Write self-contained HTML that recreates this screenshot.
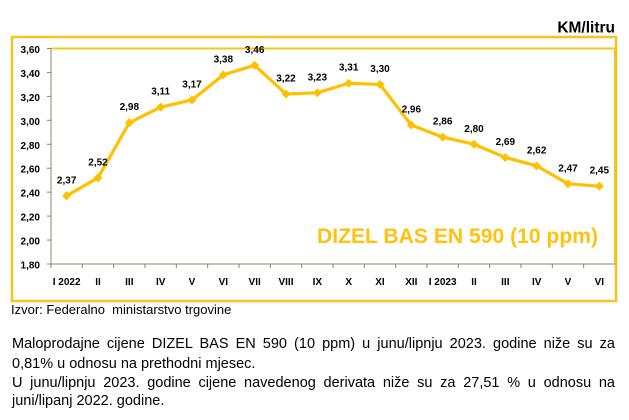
<!DOCTYPE html>
<html>
<head>
<meta charset="utf-8">
<style>
  html,body{margin:0;padding:0;background:#fff;}
  body{width:629px;height:420px;position:relative;overflow:hidden;font-family:"Liberation Sans",Arial,sans-serif;}
  svg{position:absolute;left:0;top:0;}
  .ln{position:absolute;left:12px;width:603px;font-size:14.5px;line-height:19px;color:#000;white-space:nowrap;}
  .j{text-align:justify;text-align-last:justify;white-space:normal;}
</style>
</head>
<body>
<svg width="629" height="420" viewBox="0 0 629 420" xmlns="http://www.w3.org/2000/svg" font-family="Liberation Sans, Arial, sans-serif">
  <!-- KM/litru -->
  <text x="615" y="32.3" font-size="15.5" font-weight="bold" text-anchor="end" fill="#000">KM/litru</text>

  <!-- outer frame -->
  <rect x="12" y="37" width="604" height="264" fill="none" stroke="#F7C41C" stroke-width="2.5"/>

  <!-- plot area top & right border -->
  <line x1="51" y1="48.5" x2="615" y2="48.5" stroke="#F7C41C" stroke-width="2"/>
  <line x1="615" y1="48.5" x2="615" y2="264" stroke="#F7C41C" stroke-width="2"/>

  <!-- axes -->
  <g stroke="#8d8468" stroke-width="1">
    <line x1="51" y1="48.5" x2="51" y2="268"/>
    <line x1="47" y1="264" x2="615" y2="264"/>
    <!-- y ticks -->
    <line x1="47" y1="48.5" x2="51" y2="48.5"/>
    <line x1="47" y1="72.44" x2="51" y2="72.44"/>
    <line x1="47" y1="96.39" x2="51" y2="96.39"/>
    <line x1="47" y1="120.33" x2="51" y2="120.33"/>
    <line x1="47" y1="144.28" x2="51" y2="144.28"/>
    <line x1="47" y1="168.22" x2="51" y2="168.22"/>
    <line x1="47" y1="192.17" x2="51" y2="192.17"/>
    <line x1="47" y1="216.11" x2="51" y2="216.11"/>
    <line x1="47" y1="240.06" x2="51" y2="240.06"/>
    <!-- x ticks -->
    <line x1="82.33" y1="264" x2="82.33" y2="268"/>
    <line x1="113.67" y1="264" x2="113.67" y2="268"/>
    <line x1="145" y1="264" x2="145" y2="268"/>
    <line x1="176.33" y1="264" x2="176.33" y2="268"/>
    <line x1="207.67" y1="264" x2="207.67" y2="268"/>
    <line x1="239" y1="264" x2="239" y2="268"/>
    <line x1="270.33" y1="264" x2="270.33" y2="268"/>
    <line x1="301.67" y1="264" x2="301.67" y2="268"/>
    <line x1="333" y1="264" x2="333" y2="268"/>
    <line x1="364.33" y1="264" x2="364.33" y2="268"/>
    <line x1="395.67" y1="264" x2="395.67" y2="268"/>
    <line x1="427" y1="264" x2="427" y2="268"/>
    <line x1="458.33" y1="264" x2="458.33" y2="268"/>
    <line x1="489.67" y1="264" x2="489.67" y2="268"/>
    <line x1="521" y1="264" x2="521" y2="268"/>
    <line x1="552.33" y1="264" x2="552.33" y2="268"/>
    <line x1="583.67" y1="264" x2="583.67" y2="268"/>
  </g>

  <!-- y labels -->
  <g font-size="10" font-weight="bold" text-anchor="end" fill="#000">
    <text x="40" y="53">3,60</text>
    <text x="40" y="76.9">3,40</text>
    <text x="40" y="100.9">3,20</text>
    <text x="40" y="124.8">3,00</text>
    <text x="40" y="148.8">2,80</text>
    <text x="40" y="172.7">2,60</text>
    <text x="40" y="196.7">2,40</text>
    <text x="40" y="220.6">2,20</text>
    <text x="40" y="244.6">2,00</text>
    <text x="40" y="268.5">1,80</text>
  </g>

  <!-- x labels -->
  <g font-size="10" font-weight="bold" text-anchor="middle" fill="#000">
    <text x="66.67" y="285">I 2022</text>
    <text x="98" y="285">II</text>
    <text x="129.33" y="285">III</text>
    <text x="160.67" y="285">IV</text>
    <text x="192" y="285">V</text>
    <text x="223.33" y="285">VI</text>
    <text x="254.67" y="285">VII</text>
    <text x="286" y="285">VIII</text>
    <text x="317.33" y="285">IX</text>
    <text x="348.67" y="285">X</text>
    <text x="380" y="285">XI</text>
    <text x="411.33" y="285">XII</text>
    <text x="442.67" y="285">I 2023</text>
    <text x="474" y="285">II</text>
    <text x="505.33" y="285">III</text>
    <text x="536.67" y="285">IV</text>
    <text x="568" y="285">V</text>
    <text x="599.33" y="285">VI</text>
  </g>

  <!-- series line -->
  <polyline fill="none" stroke="#FFC000" stroke-width="3.2" stroke-linejoin="round"
    points="66.67,195.76 98,177.8 129.33,122.73 160.67,107.17 192,99.98 223.33,74.84 254.67,65.26 286,94 317.33,92.8 348.67,83.22 380,84.42 411.33,125.12 442.67,137.1 474,144.28 505.33,157.45 536.67,165.83 568,183.79 599.33,186.18"/>

  <!-- markers -->
  <g fill="#FFC000">
    <polygon points="66.67,191.26 71.17,195.76 66.67,200.26 62.17,195.76"/>
    <polygon points="98,173.3 102.5,177.8 98,182.3 93.5,177.8"/>
    <polygon points="129.33,118.23 133.83,122.73 129.33,127.23 124.83,122.73"/>
    <polygon points="160.67,102.67 165.17,107.17 160.67,111.67 156.17,107.17"/>
    <polygon points="192,95.48 196.5,99.98 192,104.48 187.5,99.98"/>
    <polygon points="223.33,70.34 227.83,74.84 223.33,79.34 218.83,74.84"/>
    <polygon points="254.67,60.76 259.17,65.26 254.67,69.76 250.17,65.26"/>
    <polygon points="286,89.5 290.5,94 286,98.5 281.5,94"/>
    <polygon points="317.33,88.3 321.83,92.8 317.33,97.3 312.83,92.8"/>
    <polygon points="348.67,78.72 353.17,83.22 348.67,87.72 344.17,83.22"/>
    <polygon points="380,79.92 384.5,84.42 380,88.92 375.5,84.42"/>
    <polygon points="411.33,120.62 415.83,125.12 411.33,129.62 406.83,125.12"/>
    <polygon points="442.67,132.6 447.17,137.1 442.67,141.6 438.17,137.1"/>
    <polygon points="474,139.78 478.5,144.28 474,148.78 469.5,144.28"/>
    <polygon points="505.33,152.95 509.83,157.45 505.33,161.95 500.83,157.45"/>
    <polygon points="536.67,161.33 541.17,165.83 536.67,170.33 532.17,165.83"/>
    <polygon points="568,179.29 572.5,183.79 568,188.29 563.5,183.79"/>
    <polygon points="599.33,181.68 603.83,186.18 599.33,190.68 594.83,186.18"/>
  </g>

  <!-- data labels -->
  <g font-size="10" font-weight="bold" text-anchor="middle" fill="#000">
    <text x="66.67" y="183.3">2,37</text>
    <text x="98" y="165.3">2,52</text>
    <text x="129.33" y="110.2">2,98</text>
    <text x="160.67" y="94.7">3,11</text>
    <text x="192" y="87.5">3,17</text>
    <text x="223.33" y="62.3">3,38</text>
    <text x="254.67" y="52.8">3,46</text>
    <text x="286" y="81.5">3,22</text>
    <text x="317.33" y="80.3">3,23</text>
    <text x="348.67" y="70.7">3,31</text>
    <text x="380" y="71.9">3,30</text>
    <text x="411.33" y="112.6">2,96</text>
    <text x="442.67" y="124.6">2,86</text>
    <text x="474" y="131.8">2,80</text>
    <text x="505.33" y="144.9">2,69</text>
    <text x="536.67" y="153.3">2,62</text>
    <text x="568" y="171.3">2,47</text>
    <text x="599.33" y="173.7">2,45</text>
  </g>

  <!-- series title -->
  <text x="317" y="243" font-size="21" font-weight="bold" fill="#FFC20E" textLength="281" lengthAdjust="spacingAndGlyphs">DIZEL BAS EN 590 (10 ppm)</text>

  <!-- source -->
  <text x="11" y="314" font-size="13" fill="#000" xml:space="preserve">Izvor: Federalno  ministarstvo trgovine</text>
</svg>

<div class="ln j" style="top:335px;">Maloprodajne cijene DIZEL BAS EN 590 (10 ppm) u junu/lipnju 2023. godine niže su za</div>
<div class="ln" style="top:355px;">0,81% u odnosu na prethodni mjesec.</div>
<div class="ln j" style="top:373.5px;">U junu/lipnju 2023. godine cijene navedenog derivata niže su za 27,51 % u odnosu na</div>
<div class="ln" style="top:392px;">juni/lipanj 2022. godine.</div>
</body>
</html>
